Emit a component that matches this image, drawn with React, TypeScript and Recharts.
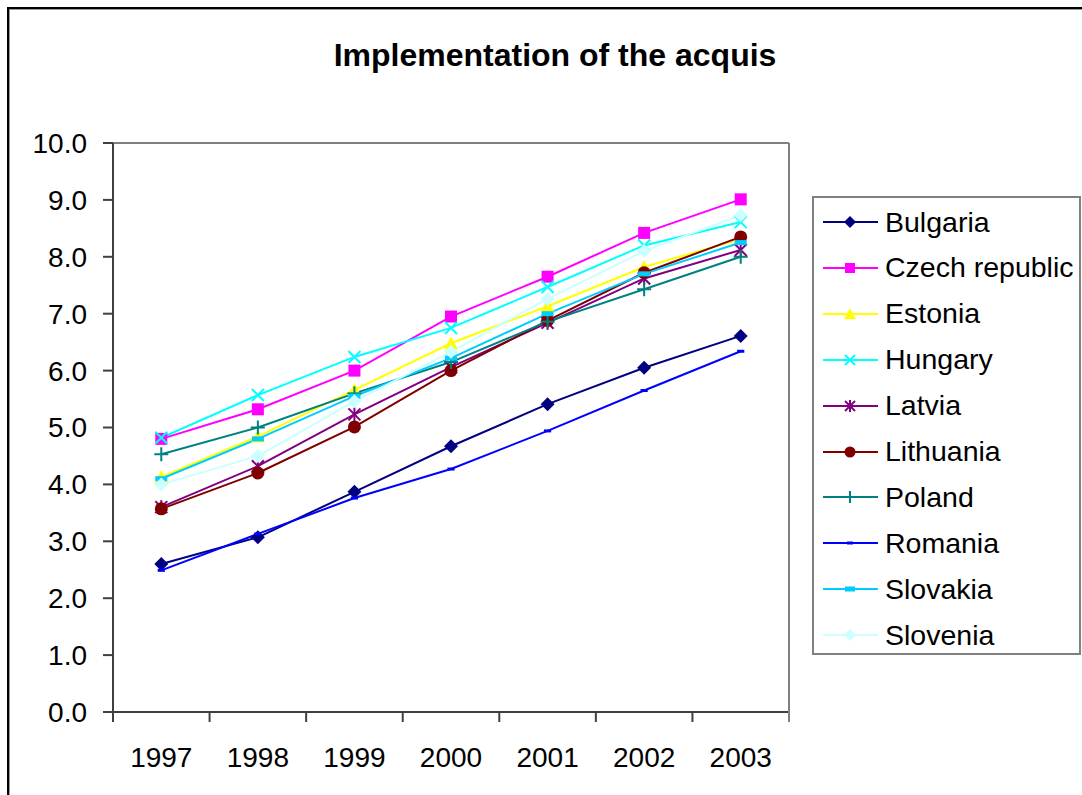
import { CartesianGrid, Line, LineChart, XAxis, YAxis } from "recharts";

const years = ["1997", "1998", "1999", "2000", "2001", "2002", "2003"];
const yTicks = [0, 1, 2, 3, 4, 5, 6, 7, 8, 9, 10];

const bulgaria = [2.6, 3.07, 3.87, 4.67, 5.41, 6.05, 6.61];
const czech = [4.8, 5.32, 6.0, 6.95, 7.65, 8.42, 9.01];
const estonia = [4.13, 4.84, 5.66, 6.48, 7.13, 7.82, 8.31];
const hungary = [4.82, 5.57, 6.24, 6.75, 7.47, 8.2, 8.61];
const latvia = [3.6, 4.32, 5.23, 6.06, 6.84, 7.62, 8.12];
const lithuania = [3.57, 4.2, 5.01, 6.0, 6.88, 7.72, 8.35];
const poland = [4.53, 5.0, 5.6, 6.15, 6.86, 7.43, 8.0];
const romania = [2.49, 3.13, 3.76, 4.27, 4.94, 5.65, 6.34];
const slovakia = [4.1, 4.8, 5.55, 6.22, 7.0, 7.7, 8.25];
const slovenia = [4.0, 4.5, 5.46, 6.33, 7.26, 8.1, 8.73];

type Shape =
  | "diamond"
  | "square"
  | "triangle"
  | "x"
  | "star"
  | "circle"
  | "plus"
  | "dash"
  | "bar";

interface Series {
  key: string;
  name: string;
  values: number[];
  color: string;
  shape: Shape;
}

const series: Series[] = [
  { key: "bg", name: "Bulgaria", values: bulgaria, color: "#000080", shape: "diamond" },
  { key: "cz", name: "Czech republic", values: czech, color: "#FF00FF", shape: "square" },
  { key: "ee", name: "Estonia", values: estonia, color: "#FFFF00", shape: "triangle" },
  { key: "hu", name: "Hungary", values: hungary, color: "#00FFFF", shape: "x" },
  { key: "lv", name: "Latvia", values: latvia, color: "#800080", shape: "star" },
  { key: "lt", name: "Lithuania", values: lithuania, color: "#800000", shape: "circle" },
  { key: "pl", name: "Poland", values: poland, color: "#008080", shape: "plus" },
  { key: "ro", name: "Romania", values: romania, color: "#0000FF", shape: "dash" },
  { key: "sk", name: "Slovakia", values: slovakia, color: "#00CCFF", shape: "bar" },
  { key: "si", name: "Slovenia", values: slovenia, color: "#CCFFFF", shape: "diamond" },
];

const chartData = years.map((year, i) => {
  const row: Record<string, string | number> = { year };
  for (const s of series) row[s.key] = s.values[i];
  return row;
});

const FONT = "'Liberation Sans', Arial, sans-serif";

function Marker({ shape, color, cx, cy, s }: { shape: Shape; color: string; cx: number; cy: number; s: number }) {
  switch (shape) {
    case "diamond":
      return (
        <polygon
          points={`${cx},${cy - s - 1} ${cx + s + 1},${cy} ${cx},${cy + s + 1} ${cx - s - 1},${cy}`}
          fill={color}
        />
      );
    case "square":
      return <rect x={cx - s} y={cy - s} width={s * 2} height={s * 2} fill={color} />;
    case "triangle":
      return (
        <polygon
          points={`${cx},${cy - s - 1} ${cx + s + 1},${cy + s} ${cx - s - 1},${cy + s}`}
          fill={color}
        />
      );
    case "x":
      return (
        <g stroke={color} strokeWidth={2}>
          <line x1={cx - s} y1={cy - s} x2={cx + s} y2={cy + s} />
          <line x1={cx - s} y1={cy + s} x2={cx + s} y2={cy - s} />
        </g>
      );
    case "star":
      return (
        <g stroke={color} strokeWidth={2}>
          <line x1={cx - s} y1={cy - s} x2={cx + s} y2={cy + s} />
          <line x1={cx - s} y1={cy + s} x2={cx + s} y2={cy - s} />
          <line x1={cx} y1={cy - s - 1} x2={cx} y2={cy + s + 1} />
        </g>
      );
    case "circle":
      return <circle cx={cx} cy={cy} r={s + 0.5} fill={color} />;
    case "plus":
      return (
        <g stroke={color} strokeWidth={2}>
          <line x1={cx - s - 1} y1={cy} x2={cx + s + 1} y2={cy} />
          <line x1={cx} y1={cy - s - 1} x2={cx} y2={cy + s + 1} />
        </g>
      );
    case "dash":
      return <rect x={cx - s * 0.6} y={cy - 1.5} width={s * 1.2} height={3} fill={color} />;
    case "bar":
      return <rect x={cx - s} y={cy - 2.5} width={s * 2} height={5} fill={color} />;
  }
  return null;
}

function makeDot(s: Series) {
  return (props: any) => {
    const { cx, cy, index } = props;
    if (cx == null || cy == null) return <g key={`${s.key}-${index}`} />;
    return (
      <g key={`${s.key}-${index}`}>
        <Marker shape={s.shape} color={s.color} cx={cx} cy={cy} s={6} />
      </g>
    );
  };
}

function YearTick(props: any) {
  const { x, y, payload, index, visibleTicksCount, width } = props;
  const half =
    payload && typeof payload.offset === "number" && payload.offset > 0
      ? payload.offset
      : width / visibleTicksCount / 2;
  const last = index === visibleTicksCount - 1;
  return (
    <g>
      <line x1={x - half} y1={y} x2={x - half} y2={y + 10} stroke="#404040" strokeWidth={2} />
      {last && (
        <line x1={x + half} y1={y} x2={x + half} y2={y + 10} stroke="#808080" strokeWidth={2} />
      )}
      <text x={x} y={y + 55} textAnchor="middle" fontSize={28} fontFamily={FONT} fill="#000">
        {payload.value}
      </text>
    </g>
  );
}

function LegendBox() {
  return (
    <div
      style={{
        position: "absolute",
        left: 812,
        top: 196,
        width: 269,
        height: 459,
        border: "2px solid #808080",
        boxSizing: "border-box",
        background: "#fff",
      }}
    >
      {series.map((s, i) => (
        <div
          key={s.key}
          style={{
            position: "absolute",
            left: 0,
            top: 4 + i * 45.9,
            height: 40,
            display: "flex",
            alignItems: "center",
          }}
        >
          <svg width={70} height={40} style={{ display: "block" }}>
            <line x1={9} y1={20} x2={64} y2={20} stroke={s.color} strokeWidth={2} />
            <Marker shape={s.shape} color={s.color} cx={36} cy={20} s={5} />
          </svg>
          <span
            style={{
              fontFamily: FONT,
              fontSize: 28.5,
              color: "#000",
              whiteSpace: "nowrap",
              marginLeft: 1,
            }}
          >
            {s.name}
          </span>
        </div>
      ))}
    </div>
  );
}

export default function App() {
  return (
    <div
      style={{
        position: "absolute",
        left: 0,
        top: 0,
        width: 1082,
        height: 795,
        overflow: "hidden",
        background: "#fff",
      }}
    >
      <div
        style={{
          position: "absolute",
          left: 7,
          top: 7,
          width: 1200,
          height: 900,
          borderLeft: "2px solid #000",
          borderTop: "2px solid #000",
          boxShadow: "inset 1px 1px 0 #999",
        }}
      />
      <div
        style={{
          position: "absolute",
          left: 0,
          top: 37,
          width: 1110,
          textAlign: "center",
          fontFamily: FONT,
          fontWeight: "bold",
          fontSize: 32,
          color: "#000",
        }}
      >
        Implementation of the acquis
      </div>
      <div style={{ position: "absolute", left: 0, top: 0 }}>
        <LineChart
          width={1082}
          height={795}
          data={chartData}
          margin={{ top: 143, right: 292, bottom: 0, left: 0 }}
        >
          <CartesianGrid vertical={false} stroke="#808080" strokeWidth={2} />
          <XAxis
            dataKey="year"
            scale="band"
            height={83}
            tickLine={false}
            tickSize={0}
            tickMargin={0}
            axisLine={{ stroke: "#404040", strokeWidth: 2 }}
            tick={<YearTick />}
            interval={0}
          />
          <YAxis
            yAxisId="left"
            width={113}
            domain={[0, 10]}
            ticks={yTicks}
            interval={0}
            tickFormatter={(v: number) => v.toFixed(1)}
            tickSize={10}
            tickMargin={16}
            tick={{ fontSize: 28, fontFamily: FONT, fill: "#000" }}
            tickLine={{ stroke: "#404040", strokeWidth: 2 }}
            axisLine={{ stroke: "#404040", strokeWidth: 2 }}
          />
          <YAxis
            yAxisId="right"
            orientation="right"
            width={1}
            domain={[0, 10]}
            ticks={yTicks}
            tick={false}
            tickLine={false}
            axisLine={{ stroke: "#808080", strokeWidth: 2 }}
          />
          {series.map((s) => (
            <Line
              key={s.key}
              yAxisId="left"
              type="linear"
              dataKey={s.key}
              name={s.name}
              stroke={s.color}
              strokeWidth={2}
              dot={makeDot(s)}
              activeDot={false}
              isAnimationActive={false}
            />
          ))}
        </LineChart>
      </div>
      <LegendBox />
    </div>
  );
}
